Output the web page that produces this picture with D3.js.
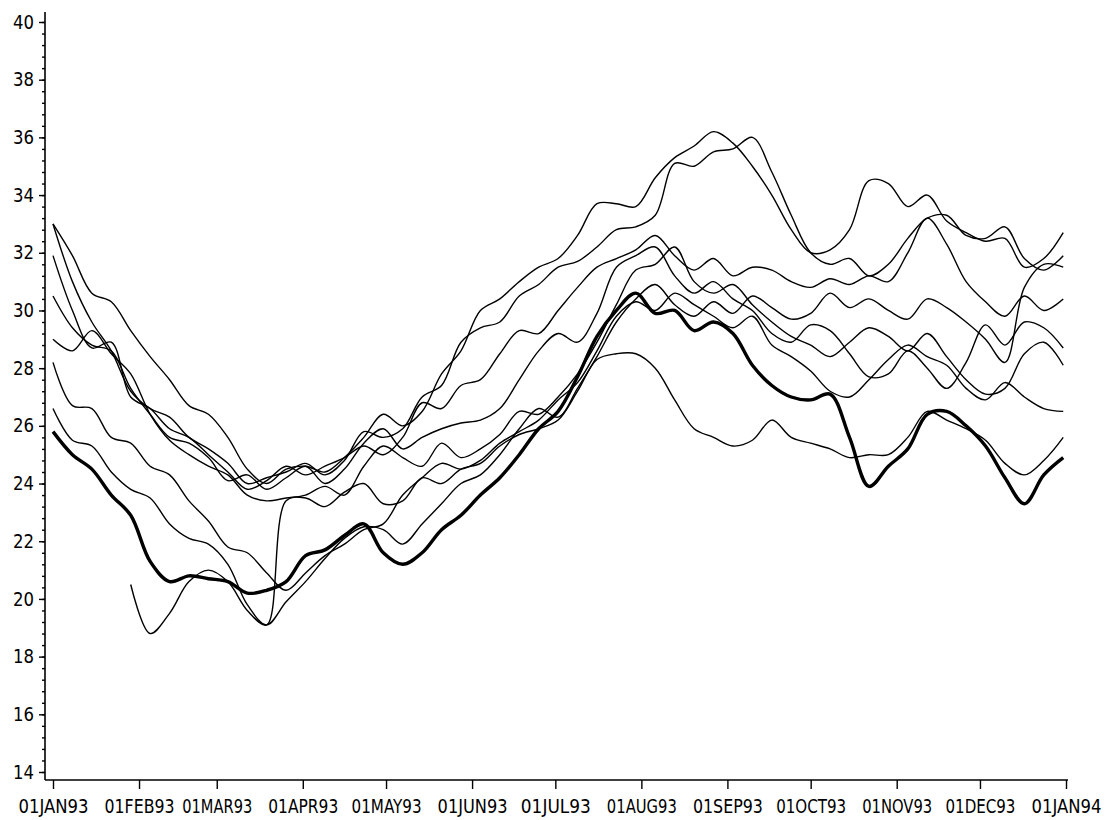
<!DOCTYPE html>
<html>
<head>
<meta charset="utf-8">
<script src="https://cdn.jsdelivr.net/npm/d3@7"></script>
<style>
  body { margin: 0; background: #fff; }
  svg text { font-family: "DejaVu Sans", sans-serif; font-stretch: condensed; fill: #000; }
</style>
</head>
<body>
<div id="chart"></div>
<script>
// weekly sample dates
var dates = ["1993-01-01","1993-01-08","1993-01-15","1993-01-22","1993-01-29",
  "1993-02-05","1993-02-12","1993-02-19","1993-02-26",
  "1993-03-05","1993-03-12","1993-03-19","1993-03-26",
  "1993-04-02","1993-04-09","1993-04-16","1993-04-23","1993-04-30",
  "1993-05-07","1993-05-14","1993-05-21","1993-05-28",
  "1993-06-04","1993-06-11","1993-06-18","1993-06-25",
  "1993-07-02","1993-07-09","1993-07-16","1993-07-23","1993-07-30",
  "1993-08-06","1993-08-13","1993-08-20","1993-08-27",
  "1993-09-03","1993-09-10","1993-09-17","1993-09-24",
  "1993-10-01","1993-10-08","1993-10-15","1993-10-22","1993-10-29",
  "1993-11-05","1993-11-12","1993-11-19","1993-11-26",
  "1993-12-03","1993-12-10","1993-12-17","1993-12-24","1993-12-31"];

// thin series
var seriesA = [33.0,31.9,30.6,30.3,29.3,28.4,27.6,26.7,26.4,25.6, 24.5,24.0,24.5,24.6,24.4,24.9,25.6,26.4,26.0,26.5,
  27.8,28.6,30.0,30.4,31.0,31.5,31.8,32.6,33.7,33.7, 33.6,34.6,35.3,35.7,36.2,35.8,35.0,34.0,32.8,32.0,
  32.1,32.8,34.5,34.4,33.6,34.0,33.1,32.7,32.4,32.5, 31.5,31.8,32.7];
var seriesB = [33.0,31.0,29.6,28.6,27.2,26.6,26.3,25.6,25.2,24.7, 24.0,24.2,24.4,24.7,24.3,24.8,25.8,25.6,25.9,27.0,
  27.4,28.9,29.4,29.6,30.5,30.9,31.5,31.7,32.2,32.8, 32.9,33.3,35.1,35.0,35.5,35.6,36.0,34.8,33.3,32.0,
  31.6,31.8,31.2,31.6,32.5,33.2,33.3,32.6,32.5,32.9, 31.8,31.4,31.9];
var seriesC = [31.9,30.0,28.7,28.9,27.0,26.6,25.9,25.6,25.0,24.4, 23.8,24.1,24.6,24.3,24.6,24.9,25.3,25.0,25.6,26.8,
  26.6,27.4,27.6,28.5,29.3,29.2,30.0,30.8,31.5,31.8, 32.1,32.6,31.9,31.4,31.8,31.2,31.5,31.4,31.0,30.8,
  31.1,30.9,31.2,31.0,32.0,33.2,32.3,31.0,30.3,29.8, 30.5,30.0,30.4];
var seriesD = [30.5,29.4,28.8,28.6,27.3,26.4,25.6,25.4,24.9,24.1, 24.3,23.8,24.2,24.6,24.0,24.5,25.4,25.9,25.2,25.6,
  25.9,26.1,26.2,26.6,27.6,28.6,29.2,28.9,29.9,31.5, 31.9,32.2,31.2,30.6,31.0,30.4,30.0,29.2,28.9,29.5,
  29.3,28.5,27.7,27.8,28.6,28.0,27.3,28.2,29.5,28.8, 29.6,29.4,28.7];
var seriesE = [29.0,28.6,29.3,28.5,27.8,26.4,25.5,25.0,24.6,24.3, 23.6,23.4,23.5,23.6,23.9,23.6,24.6,25.3,24.9,24.6,
  25.4,24.9,25.2,25.7,26.5,26.4,27.0,27.8,28.9,30.2, 31.4,31.6,32.2,31.0,30.6,30.9,30.2,29.6,29.1,28.8,
  28.4,28.9,29.4,29.1,28.6,29.2,28.4,27.6,27.1,27.3, 28.5,28.9,28.1];
var seriesF = [28.2,26.7,26.6,25.6,25.4,24.6,24.3,23.4,22.7,21.8, 21.6,20.9,20.3,20.9,21.5,21.9,22.4,22.6,23.6,24.2,
  24.7,24.5,24.8,25.4,25.8,26.2,26.9,27.5,28.6,29.8, 30.3,30.0,30.6,30.2,29.8,29.4,29.8,28.8,28.4,27.9,
  27.2,27.0,27.6,28.3,28.8,28.4,28.1,27.3,26.9,27.5, 27.0,26.6,26.5];
var seriesG = [26.6,25.5,25.3,24.4,23.8,23.5,22.6,22.1,21.9,21.2, 19.8,19.1,19.9,20.6,21.4,22.1,22.5,22.4,21.9,22.6,
  23.3,24.0,24.3,25.0,25.9,26.6,26.3,27.3,28.4,29.6, 30.4,30.9,30.2,29.8,30.3,29.9,30.5,30.1,29.7,29.9,
  30.6,30.1,30.4,30.0,29.7,30.4,30.1,29.6,29.0,28.2, 30.8,31.6,31.5];
var seriesH = [null,null,null,null,20.5,18.8,19.5,20.6,21.0,20.6, 19.6,19.1,23.4,23.5,23.2,23.7,24.0,23.3,23.4,24.2,
  24.0,24.5,24.7,25.3,25.7,25.9,26.2,27.2,28.3,28.5, 28.5,28.0,26.9,25.9,25.6,25.3,25.5,26.2,25.6,25.4,
  25.2,24.9,25.0,25.0,25.6,26.5,26.2,25.9,25.5,24.7, 24.3,24.8,25.6];
// heavy series
var seriesT = [25.8,25.0,24.5,23.6,22.9,21.3,20.6,20.8,20.7,20.6, 20.2,20.3,20.6,21.5,21.7,22.2,22.6,21.6,21.2,21.6,
  22.4,22.9,23.6,24.2,25.0,25.9,26.5,27.7,29.1,30.0, 30.6,29.9,30.0,29.3,29.6,29.2,28.1,27.4,27.0,26.9,
  27.1,25.6,23.9,24.6,25.2,26.4,26.5,26.0,25.3,24.2, 23.3,24.3,24.9];

var thinSeries = [seriesA, seriesB, seriesC, seriesD, seriesE, seriesF, seriesG, seriesH];

var tickDates = ["1993-01-01","1993-02-01","1993-03-01","1993-04-01","1993-05-01","1993-06-01","1993-07-01",
  "1993-08-01","1993-09-01","1993-10-01","1993-11-01","1993-12-01","1994-01-01"];
var tickLabels = ["01JAN93","01FEB93","01MAR93","01APR93","01MAY93","01JUN93","01JUL93",
  "01AUG93","01SEP93","01OCT93","01NOV93","01DEC93","01JAN94"];
var yTicks = [14,16,18,20,22,24,26,28,30,32,34,36,38,40];

var W = 1105, H = 820;
var parse = d3.timeParse("%Y-%m-%d");
var xDates = dates.map(parse);

var svg = d3.select("#chart").append("svg")
    .attr("width", W)
    .attr("height", H);

var x = d3.scaleTime()
    .domain([parse("1993-01-01"), parse("1994-01-01")])
    .range([53, 1066]);
var y = d3.scaleLinear()
    .domain([14, 40])
    .range([772, 22]);

// axes lines
svg.append("line").attr("x1", 45).attr("x2", 45).attr("y1", 12).attr("y2", 780)
  .attr("stroke", "#000").attr("stroke-width", 1.6);
svg.append("line").attr("x1", 45).attr("x2", 1068).attr("y1", 780).attr("y2", 780)
  .attr("stroke", "#000").attr("stroke-width", 1.6);

// minor y ticks
var minor = d3.range(0, 66).map(function(k) { return 14 + k * 0.4; });
svg.append("g")
    .attr("transform", "translate(45,0)")
    .call(d3.axisLeft(y).tickValues(minor).tickSize(3).tickFormat(""))
    .call(function(g) { g.select(".domain").remove(); })
    .selectAll("line").attr("stroke-width", 1.4);

// major y ticks
var yAxis = svg.append("g")
    .attr("transform", "translate(45,0)")
    .call(d3.axisLeft(y).tickValues(yTicks).tickSize(6).tickPadding(5))
    .call(function(g) { g.select(".domain").remove(); });
yAxis.selectAll("line").attr("stroke-width", 1.4);
yAxis.selectAll(".tick text")
    .style("font-size", "19px")
    .attr("textLength", 21)
    .attr("lengthAdjust", "spacingAndGlyphs");

// x axis
var xAxis = svg.append("g")
    .attr("transform", "translate(0,780)")
    .call(d3.axisBottom(x).tickValues(tickDates.map(parse)).tickSize(9).tickPadding(11)
      .tickFormat(function(d, i) { return tickLabels[i]; }))
    .call(function(g) { g.select(".domain").remove(); });
xAxis.selectAll("line").attr("stroke-width", 1.4);
xAxis.selectAll(".tick text")
    .style("font-size", "19px")
    .attr("textLength", 70)
    .attr("lengthAdjust", "spacingAndGlyphs");

// lines
var line = d3.line()
    .defined(function(d) { return d[1] != null; })
    .curve(d3.curveCatmullRom.alpha(0.5))
    .x(function(d) { return x(d[0]); })
    .y(function(d) { return y(d[1]); });

thinSeries.forEach(function(s) {
  svg.append("path")
    .datum(xDates.map(function(d, i) { return [d, s[i]]; }))
    .attr("fill", "none")
    .attr("stroke", "#000")
    .attr("stroke-width", 1.4)
    .attr("stroke-linejoin", "round")
    .attr("d", line);
});

svg.append("path")
    .datum(xDates.map(function(d, i) { return [d, seriesT[i]]; }))
    .attr("fill", "none")
    .attr("stroke", "#000")
    .attr("stroke-width", 3.4)
    .attr("stroke-linejoin", "round")
    .attr("d", line);
</script>
</body>
</html>
